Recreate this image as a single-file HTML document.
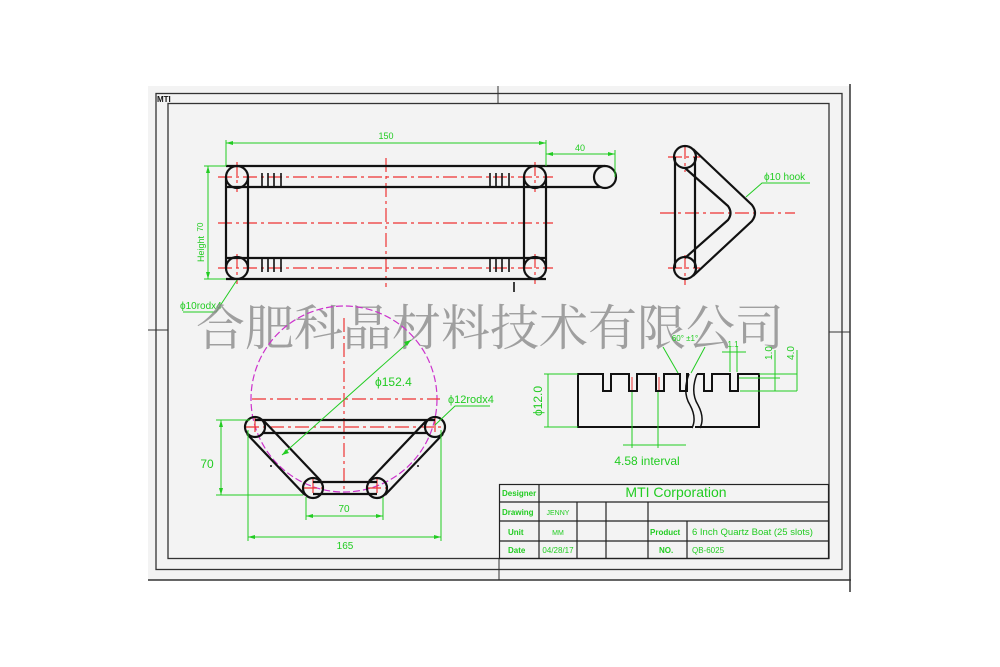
<!DOCTYPE html>
<html><head><meta charset="utf-8"><style>
html,body{margin:0;padding:0;background:#fff;}
svg{display:block;}
text{font-family:"Liberation Sans",sans-serif;}
.g{fill:#22cc22;}
.n{font-family:"Liberation Sans Narrow","Liberation Sans",sans-serif;}
</style></head><body>
<svg width="1000" height="667" viewBox="0 0 1000 667" xmlns="http://www.w3.org/2000/svg">
<rect x="148" y="86" width="702" height="494" fill="#f3f3f3"/>
<g fill="none" stroke="#333">
<line x1="850" y1="84" x2="850" y2="592" stroke-width="1.5"/>
<line x1="148" y1="580" x2="851" y2="580" stroke-width="1.5"/>
<rect x="156" y="93.5" width="686" height="476" stroke-width="1.3"/>
<rect x="168" y="103.5" width="661" height="455" stroke-width="1.3"/>
<line x1="498" y1="86" x2="498" y2="103"/>
<line x1="499" y1="558" x2="499" y2="580"/>
<line x1="148" y1="330" x2="168" y2="330"/>
<line x1="829" y1="332" x2="850" y2="332"/>
</g>
<text x="157" y="102" font-size="8" font-weight="bold" fill="#111">MTI</text>

<g stroke="#e33" stroke-width="1.2" stroke-dasharray="14,4,3,4" fill="none">
<line x1="218" y1="177" x2="553" y2="177"/>
<line x1="218" y1="223" x2="553" y2="223"/>
<line x1="218" y1="268" x2="553" y2="268"/>
<line x1="386" y1="158" x2="386" y2="287"/>
<line x1="237" y1="162" x2="237" y2="192"/><line x1="535" y1="162" x2="535" y2="192"/>
<line x1="237" y1="254" x2="237" y2="284"/><line x1="535" y1="254" x2="535" y2="284"/>
</g>
<g stroke="#111" stroke-width="2.2" fill="none">
<line x1="226" y1="166" x2="605" y2="166"/>
<line x1="226" y1="187" x2="605" y2="187"/>
<line x1="226" y1="258" x2="546" y2="258"/>
<line x1="226" y1="279" x2="546" y2="279"/>
<line x1="226" y1="177" x2="226" y2="268"/>
<line x1="248" y1="177" x2="248" y2="268"/>
<line x1="524" y1="177" x2="524" y2="268"/>
<line x1="546" y1="177" x2="546" y2="268"/>
<circle cx="237" cy="177" r="11"/><circle cx="535" cy="177" r="11"/>
<circle cx="237" cy="268" r="11"/><circle cx="535" cy="268" r="11"/>
<circle cx="605" cy="177" r="11" fill="#f3f3f3"/>
</g>
<g stroke="#111" stroke-width="1.6">
<line x1="262" y1="173" x2="262" y2="186"/><line x1="268" y1="173" x2="268" y2="186"/><line x1="274" y1="173" x2="274" y2="186"/><line x1="281" y1="173" x2="281" y2="186"/>
<line x1="490" y1="173" x2="490" y2="186"/><line x1="496" y1="173" x2="496" y2="186"/><line x1="502" y1="173" x2="502" y2="186"/><line x1="509" y1="173" x2="509" y2="186"/>
<line x1="262" y1="259" x2="262" y2="272"/><line x1="268" y1="259" x2="268" y2="272"/><line x1="274" y1="259" x2="274" y2="272"/><line x1="281" y1="259" x2="281" y2="272"/>
<line x1="490" y1="259" x2="490" y2="272"/><line x1="496" y1="259" x2="496" y2="272"/><line x1="502" y1="259" x2="502" y2="272"/><line x1="509" y1="259" x2="509" y2="272"/>
<line x1="514" y1="282" x2="514" y2="292"/>
</g>
<g stroke="#2c2" stroke-width="1" fill="none">
<line x1="226" y1="143" x2="546" y2="143"/>
<line x1="226" y1="140" x2="226" y2="166"/><line x1="546" y1="140" x2="546" y2="166"/>
<line x1="546" y1="154" x2="615" y2="154"/><line x1="615" y1="150" x2="615" y2="177"/>
<line x1="208" y1="166" x2="208" y2="279"/>
<line x1="204" y1="166" x2="226" y2="166"/><line x1="204" y1="279" x2="226" y2="279"/>
<polyline points="183,312 216,312 237,280"/>
</g>
<g fill="#2c2">
<polygon points="226,143 233,141 233,145"/><polygon points="546,143 539,141 539,145"/>
<polygon points="546,154 553,152 553,156"/><polygon points="615,154 608,152 608,156"/>
<polygon points="208,166 206,173 210,173"/><polygon points="208,279 206,272 210,272"/>
</g>
<text class="g n" x="386" y="139" font-size="9" text-anchor="middle">150</text>
<text class="g n" x="580" y="151" font-size="9" text-anchor="middle">40</text>
<text class="g n" x="0" y="0" font-size="8" text-anchor="middle" transform="translate(203,227) rotate(-90)">70</text>
<text class="g n" x="0" y="0" font-size="9" text-anchor="middle" transform="translate(204,249) rotate(-90)">Height</text>
<text class="g n" x="180" y="309" font-size="10">ϕ10rodx4</text>

<g stroke="#e33" stroke-width="1.2" stroke-dasharray="14,4,3,4" fill="none">
<line x1="660" y1="213" x2="795" y2="213"/>
<line x1="668" y1="157" x2="700" y2="157"/><line x1="685" y1="145" x2="685" y2="172"/>
<line x1="668" y1="268" x2="700" y2="268"/><line x1="685" y1="255" x2="685" y2="285"/>
</g>
<g stroke="#111" stroke-width="2.2" fill="none">
<line x1="675" y1="157" x2="675" y2="268"/>
<line x1="695" y1="157" x2="695" y2="268"/>
<circle cx="685" cy="157" r="11"/><circle cx="685" cy="268" r="11"/>
<path d="M693,149 L752,205 Q758,213 752,221 L693,276"/>
<path d="M685,168 L728,206 Q733,213 728,220 L685,258"/>
</g>
<polyline points="746,197 762,183 810,183" stroke="#2c2" fill="none"/>
<text class="g n" x="764" y="180" font-size="10">ϕ10 hook</text>

<text x="490" y="345" font-size="49" fill="#8a8a8a" fill-opacity="0.8" text-anchor="middle" style="font-family:'Noto Serif CJK SC',serif">合肥科晶材料技术有限公司</text>

<circle cx="344" cy="399" r="93" fill="none" stroke="#c3c" stroke-width="1.2" stroke-dasharray="7,3"/>
<g stroke="#e33" stroke-width="1.2" stroke-dasharray="14,4,3,4" fill="none">
<line x1="252" y1="399" x2="440" y2="399"/>
<line x1="344" y1="318" x2="344" y2="490"/>
<line x1="245" y1="427" x2="446" y2="427"/>
<line x1="255" y1="418" x2="255" y2="436"/><line x1="435" y1="418" x2="435" y2="436"/>
<line x1="313" y1="479" x2="313" y2="497"/><line x1="377" y1="479" x2="377" y2="497"/>
<line x1="303" y1="488" x2="323" y2="488"/><line x1="367" y1="488" x2="387" y2="488"/>
</g>
<g stroke="#111" stroke-width="2.2" fill="none">
<line x1="255" y1="420" x2="435" y2="420"/>
<line x1="262" y1="433" x2="428" y2="433"/>
<line x1="313" y1="482" x2="377" y2="482"/>
<line x1="313" y1="494" x2="377" y2="494"/>
<circle cx="255" cy="427" r="10"/><circle cx="435" cy="427" r="10"/>
<circle cx="313" cy="488" r="10"/><circle cx="377" cy="488" r="10"/>
<line x1="247" y1="434" x2="305" y2="495"/><line x1="263" y1="420" x2="321" y2="481"/>
<line x1="443" y1="434" x2="385" y2="495"/><line x1="427" y1="420" x2="369" y2="481"/>
</g>
<circle cx="271" cy="466" r="1" fill="#111"/><circle cx="418" cy="466" r="1" fill="#111"/>
<g stroke="#2c2" stroke-width="1" fill="none">
<line x1="282" y1="455" x2="411" y2="340"/>
<line x1="221" y1="420" x2="221" y2="495"/>
<line x1="216" y1="420" x2="250" y2="420"/><line x1="216" y1="495" x2="303" y2="495"/>
<line x1="306" y1="516" x2="383" y2="516"/>
<line x1="306" y1="497" x2="306" y2="520"/><line x1="383" y1="497" x2="383" y2="520"/>
<line x1="248" y1="537" x2="441" y2="537"/>
<line x1="248" y1="430" x2="248" y2="541"/><line x1="441" y1="430" x2="441" y2="541"/>
<polyline points="435,425 455,406 490,406"/>
</g>
<g fill="#2c2">
<polygon points="411,340 404,342 407,346"/><polygon points="282,455 289,453 286,449"/>
<polygon points="221,420 219,427 223,427"/><polygon points="221,495 219,488 223,488"/>
<polygon points="306,516 313,514 313,518"/><polygon points="383,516 376,514 376,518"/>
<polygon points="248,537 255,535 255,539"/><polygon points="441,537 434,535 434,539"/>
</g>
<text class="g n" x="375" y="386" font-size="12">ϕ152.4</text>
<text class="g n" x="448" y="403" font-size="11">ϕ12rodx4</text>
<text class="g n" x="207" y="468" font-size="12" text-anchor="middle">70</text>
<text class="g n" x="344" y="512" font-size="10" text-anchor="middle">70</text>
<text class="g n" x="345" y="549" font-size="10" text-anchor="middle">165</text>

<g stroke="#111" stroke-width="2" fill="none">
<path d="M689,374 L687,374 L687,391 L680,391 L680,374 L664,374 L664,391 L656,391 L656,374 L637,374 L637,391 L629,391 L629,374 L611,374 L611,391 L603,391 L603,374 L578,374 L578,427 L693,427"/>
<path d="M697,374 L704,374 L704,391 L712,391 L712,374 L730,374 L730,391 L738,391 L738,374 L759,374 L759,427 L695,427"/>
<path d="M689,374 Q682,392 690,405 Q697,418 692,428" stroke-width="1.5"/>
<path d="M697,374 Q690,392 698,405 Q705,418 700,428" stroke-width="1.5"/>
</g>
<g stroke="#e33" stroke-width="1"><line x1="632" y1="377" x2="632" y2="390"/><line x1="659" y1="377" x2="659" y2="390"/></g>
<g stroke="#2c2" stroke-width="1" fill="none">
<line x1="548" y1="374" x2="548" y2="427"/>
<line x1="544" y1="374" x2="578" y2="374"/><line x1="544" y1="427" x2="578" y2="427"/>
<line x1="632" y1="392" x2="632" y2="448"/><line x1="658" y1="392" x2="658" y2="448"/>
<line x1="623" y1="445" x2="686" y2="445"/>
<line x1="663" y1="347" x2="678" y2="373"/><line x1="705" y1="347" x2="691" y2="373"/>
<line x1="722" y1="352" x2="746" y2="352"/>
<line x1="730" y1="346" x2="730" y2="372"/><line x1="737" y1="346" x2="737" y2="372"/>
<line x1="739" y1="378" x2="780" y2="378"/>
<line x1="759" y1="374" x2="797" y2="374"/>
<line x1="775" y1="350" x2="775" y2="391"/>
<line x1="797" y1="350" x2="797" y2="391"/>
<line x1="740" y1="391" x2="797" y2="391"/>
</g>
<text class="g n" x="0" y="0" font-size="12" text-anchor="middle" transform="translate(542,401) rotate(-90)">ϕ12.0</text>
<text class="g n" x="647" y="465" font-size="12" text-anchor="middle">4.58 interval</text>
<text class="g n" x="685" y="341" font-size="8" text-anchor="middle">60° ±1°</text>
<text class="g n" x="733" y="347" font-size="8" text-anchor="middle">1.1</text>
<text class="g n" x="0" y="0" font-size="10" text-anchor="middle" transform="translate(772,353) rotate(-90)">1.0</text>
<text class="g n" x="0" y="0" font-size="10" text-anchor="middle" transform="translate(794,353) rotate(-90)">4.0</text>

<g stroke="#222" stroke-width="1.2" fill="none">
<rect x="499.5" y="484.5" width="329" height="74"/>
<line x1="499" y1="502" x2="829" y2="502"/>
<line x1="499" y1="521" x2="829" y2="521"/>
<line x1="499" y1="541" x2="829" y2="541"/>
<line x1="539" y1="484" x2="539" y2="558"/>
<line x1="577" y1="502" x2="577" y2="558"/>
<line x1="606" y1="502" x2="606" y2="558"/>
<line x1="648" y1="502" x2="648" y2="558"/>
<line x1="687" y1="521" x2="687" y2="558"/>
</g>
<g class="g" font-size="8" font-weight="bold">
<text x="502" y="496">Designer</text>
<text x="502" y="515">Drawing</text>
<text x="508" y="535">Unit</text>
<text x="508" y="553">Date</text>
<text x="650" y="535">Product</text>
<text x="659" y="553">NO.</text>
</g>
<text class="g" x="676" y="497" font-size="14" text-anchor="middle">MTI Corporation</text>
<text class="g n" x="558" y="515" font-size="7" text-anchor="middle">JENNY</text>
<text class="g n" x="558" y="535" font-size="7" text-anchor="middle">MM</text>
<text class="g n" x="558" y="553" font-size="8" text-anchor="middle">04/28/17</text>
<text class="g" x="692" y="535" font-size="9.5">6 Inch Quartz Boat (25 slots)</text>
<text class="g" x="692" y="553" font-size="8">QB-6025</text>
</svg>
</body></html>
